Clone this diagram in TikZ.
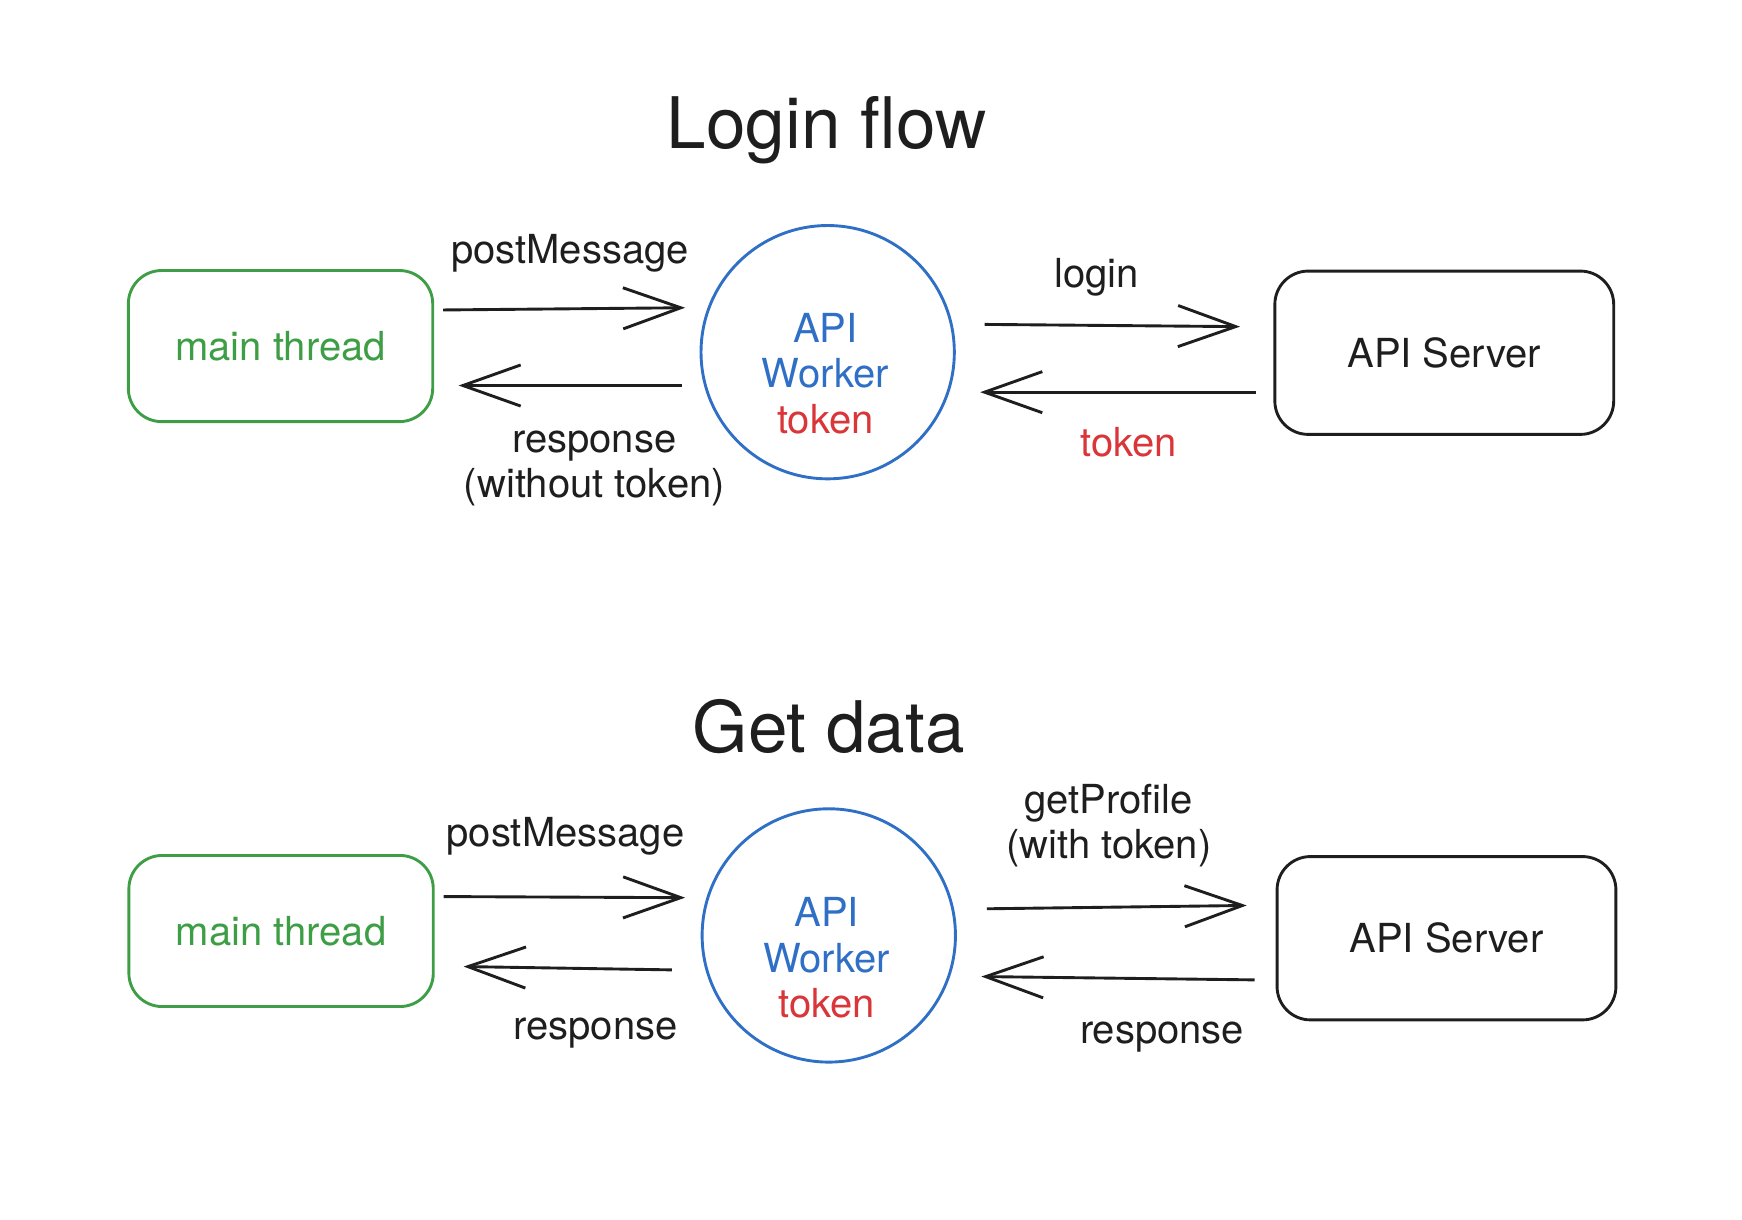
\documentclass[tikz,border=0pt]{standalone}
\usepackage{fontspec}
\setmainfont{TeX Gyre Heros}
\usetikzlibrary{arrows.meta}
\definecolor{ink}{HTML}{1E1E1E}
\definecolor{mtgreen}{HTML}{3D9E45}
\definecolor{wkblue}{HTML}{2F6FC6}
\definecolor{tokred}{HTML}{D9363A}
\newcommand{\labfont}{\fontsize{18}{20.5}\selectfont}
\tikzset{
  threadbox/.style={draw=mtgreen, line width=1.3pt, rounded corners=15pt, minimum width=137pt, minimum height=68pt, text=mtgreen, font=\labfont},
  serverbox/.style={draw=ink, line width=1.3pt, rounded corners=15pt, minimum width=152.5pt, minimum height=73.5pt, text=ink, font=\labfont},
  workerring/.style={circle, draw=wkblue, line width=1.3pt, minimum size=114pt, inner sep=0pt},
  msg/.style={draw=ink, line width=1.3pt, -{Straight Barb[length=26pt,width=18.5pt]}},
  lab/.style={text=ink, font=\labfont, anchor=base, align=center, inner sep=0pt},
  heading/.style={text=ink, font=\fontsize{32}{38}\selectfont, anchor=base, inner sep=0pt},
}
\begin{document}
\begin{tikzpicture}[x=0.5pt, y=-0.5pt]
  \useasboundingbox (0,0) rectangle (1568,1098.1);
  % login flow
  \node[heading] (title1) at (744,134) {Login flow};
  \node[threadbox] (thread1) at (252.5,311.5) {main thread};
  \node[workerring] (worker1) at (745,317) {};
  % base anchor sits on the last line
  \node[lab] (worker1txt) at (743,390) {\textcolor{wkblue}{API}\\\textcolor{wkblue}{Worker}\\\textcolor{tokred}{token}};
  \node[serverbox] (server1) at (1300,317.5) {API Server};
  \draw[msg] ([xshift=4pt,yshift=16.25pt]thread1.east) -- ([xshift=-6.5pt,yshift=20pt]worker1.west);
  \draw[msg] ([xshift=-8pt,yshift=-15pt]worker1.west) -- ([xshift=11pt,yshift=-17.75pt]thread1.east);
  \draw[msg] ([xshift=13pt,yshift=12.5pt]worker1.east) -- ([xshift=-15pt,yshift=11.75pt]server1.west);
  \draw[msg] ([xshift=-8pt,yshift=-17.75pt]server1.west) -- ([xshift=11pt,yshift=-18pt]worker1.east);
  \node[lab] (post1) at (513,237) {postMessage};
  \node[lab] (resp1) at (535,448) {response\\(without token)};
  \node[lab] (login1) at (987,259) {login};
  \node[lab, text=tokred] (tok1) at (1016,411) {token};
  % get data
  \node[heading] (title2) at (746,677) {Get data};
  \node[threadbox] (thread2) at (253,838) {main thread};
  \node[workerring] (worker2) at (746,842) {};
  \node[lab] (worker2txt) at (744,916) {\textcolor{wkblue}{API}\\\textcolor{wkblue}{Worker}\\\textcolor{tokred}{token}};
  \node[serverbox] (server2) at (1302,844.5) {API Server};
  \draw[msg] ([xshift=4pt,yshift=15.5pt]thread2.east) -- ([xshift=-7pt,yshift=17pt]worker2.west);
  \draw[msg] ([xshift=-13pt,yshift=-15.5pt]worker2.west) -- ([xshift=13pt,yshift=-16pt]thread2.east);
  \draw[msg] ([xshift=13.5pt,yshift=12pt]worker2.east) -- ([xshift=-13pt,yshift=14.75pt]server2.west);
  \draw[msg] ([xshift=-9.5pt,yshift=-18.75pt]server2.west) -- ([xshift=11pt,yshift=-18.5pt]worker2.east);
  \node[lab] (post2) at (509,762) {postMessage};
  \node[lab] (resp2) at (536,936) {response};
  \node[lab] (profile2) at (998,773) {getProfile\\(with token)};
  \node[lab] (resp3) at (1046,939) {response};
\end{tikzpicture}
\end{document}
